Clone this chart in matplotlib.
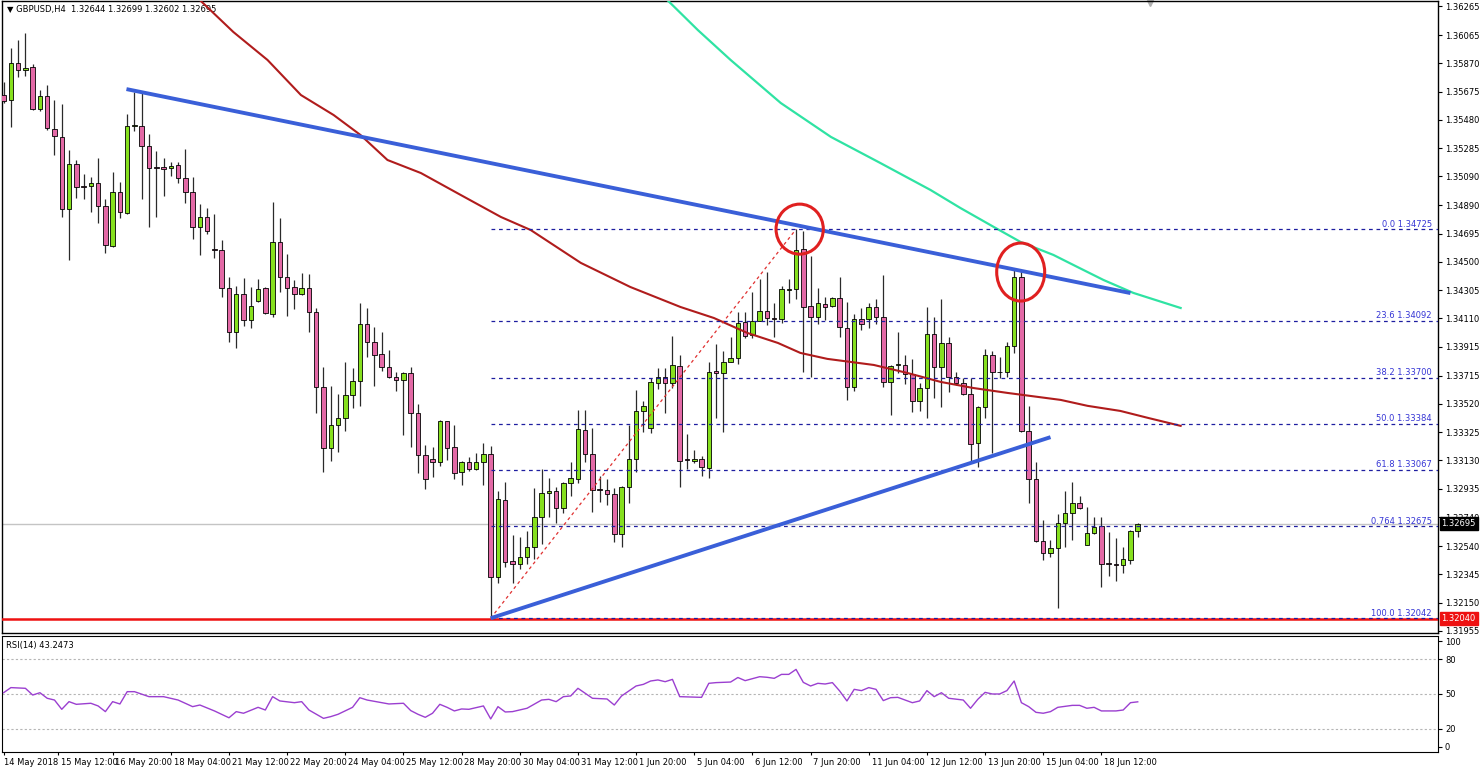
import numpy as np
import matplotlib.pyplot as plt
import matplotlib.transforms as mtransforms
from matplotlib.patches import Ellipse

# GBPUSD H4 candles (open, high, low, close)
open_ = [1.35651, 1.35616, 1.35874, 1.35823, 1.35842, 1.35552, 1.35644, 1.35414, 1.35363, 1.34862,
         1.35173, 1.35023, 1.35023, 1.35042, 1.34888, 1.34612, 1.34980, 1.34835, 1.35437, 1.35437,
         1.35301, 1.35152, 1.35152, 1.35147, 1.35166, 1.35076, 1.34984, 1.34743, 1.34812, 1.34586,
         1.34582, 1.34322, 1.34019, 1.34278, 1.34099, 1.34230, 1.34322, 1.34138, 1.34635, 1.34398,
         1.34325, 1.34279, 1.34318, 1.34157, 1.33640, 1.33219, 1.33373, 1.33426, 1.33580, 1.33681,
         1.34070, 1.33946, 1.33863, 1.33778, 1.33704, 1.33686, 1.33736, 1.33456, 1.33166, 1.33141,
         1.33123, 1.33403, 1.33226, 1.33049, 1.33118, 1.33070, 1.33123, 1.33173, 1.32323, 1.32858,
         1.32438, 1.32415, 1.32461, 1.32536, 1.32743, 1.32904, 1.32918, 1.32805, 1.32973, 1.33003,
         1.33341, 1.33173, 1.32932, 1.32927, 1.32897, 1.32621, 1.32946, 1.33141, 1.33474, 1.33357,
         1.33667, 1.33709, 1.33663, 1.33785, 1.33139, 1.33129, 1.33139, 1.33081, 1.33748, 1.33732,
         1.33812, 1.33835, 1.34083, 1.33996, 1.34093, 1.34162, 1.34111, 1.34106, 1.34306, 1.34311,
         1.34587, 1.34196, 1.34118, 1.34208, 1.34196, 1.34249, 1.34047, 1.33640, 1.34104, 1.34104,
         1.34187, 1.34122, 1.33670, 1.33789, 1.33789, 1.33727, 1.33543, 1.33628, 1.34001, 1.33778,
         1.33943, 1.33709, 1.33663, 1.33587, 1.33249, 1.33497, 1.33858, 1.33743, 1.33739, 1.33922,
         1.34398, 1.33334, 1.33001, 1.32578, 1.32490, 1.32525, 1.32702, 1.32766, 1.32840, 1.32548,
         1.32628, 1.32679, 1.32422, 1.32415, 1.32410, 1.32445, 1.32644]
high = [1.35743, 1.35973, 1.36030, 1.36076, 1.35862, 1.35685, 1.35717, 1.35616, 1.35586, 1.35272,
        1.35203, 1.35106, 1.35088, 1.35214, 1.34934, 1.35117, 1.35053, 1.35517, 1.35674, 1.35662,
        1.35380, 1.35267, 1.35214, 1.35191, 1.35191, 1.35278, 1.35083, 1.34897, 1.34869, 1.34828,
        1.34651, 1.34398, 1.34336, 1.34386, 1.34329, 1.34382, 1.34329, 1.34915, 1.34800, 1.34552,
        1.34375, 1.34421, 1.34417, 1.34180, 1.33778, 1.33647, 1.33589, 1.33808, 1.33766, 1.34214,
        1.34185, 1.34054, 1.34015, 1.33893, 1.33743, 1.33743, 1.33778, 1.33518, 1.33237, 1.33226,
        1.33410, 1.33405, 1.33373, 1.33127, 1.33157, 1.33185, 1.33254, 1.33233, 1.32920, 1.32985,
        1.32617, 1.32605, 1.32647, 1.32939, 1.33070, 1.33012, 1.32950, 1.32985, 1.33122, 1.33479,
        1.33479, 1.33352, 1.33024, 1.33001, 1.32943, 1.32955, 1.33375, 1.33617, 1.33543, 1.33697,
        1.33771, 1.33766, 1.33989, 1.33858, 1.33313, 1.33203, 1.33162, 1.33808, 1.33932, 1.33886,
        1.33980, 1.34157, 1.34157, 1.34295, 1.34385, 1.34433, 1.34214, 1.34334, 1.34382, 1.34725,
        1.34713, 1.34541, 1.34318, 1.34260, 1.34258, 1.34394, 1.34226, 1.34139, 1.34180, 1.34214,
        1.34244, 1.34410, 1.33789, 1.34019, 1.33858, 1.33828, 1.33663, 1.34187, 1.34122, 1.34244,
        1.33985, 1.33743, 1.33697, 1.33697, 1.33506, 1.33899, 1.33888, 1.33847, 1.33950, 1.34456,
        1.34437, 1.33506, 1.33122, 1.32720, 1.32582, 1.32762, 1.32923, 1.32980, 1.32888, 1.32808,
        1.32743, 1.32743, 1.32635, 1.32598, 1.32536, 1.32651, 1.32699]
low = [1.35593, 1.35428, 1.35777, 1.35782, 1.35547, 1.35543, 1.35409, 1.35237, 1.34807, 1.34513,
       1.34943, 1.34931, 1.34842, 1.34766, 1.34559, 1.34605, 1.34800, 1.34828, 1.35403, 1.34931,
       1.34743, 1.34807, 1.34957, 1.35092, 1.35046, 1.34904, 1.34660, 1.34547, 1.34690, 1.34529,
       1.34260, 1.33945, 1.33904, 1.34058, 1.34042, 1.34221, 1.34141, 1.34122, 1.34295, 1.34129,
       1.34175, 1.34275, 1.34019, 1.33460, 1.33049, 1.33127, 1.33192, 1.33336, 1.33495, 1.33507,
       1.33847, 1.33644, 1.33750, 1.33700, 1.33612, 1.33306, 1.33221, 1.33047, 1.32932, 1.33019,
       1.33095, 1.33134, 1.33001, 1.32962, 1.33058, 1.33065, 1.32962, 1.32042, 1.32284, 1.32398,
       1.32284, 1.32380, 1.32417, 1.32449, 1.32555, 1.32739, 1.32702, 1.32771, 1.32886, 1.32973,
       1.33122, 1.32778, 1.32847, 1.32824, 1.32571, 1.32536, 1.32835, 1.33054, 1.33329, 1.33318,
       1.33621, 1.33460, 1.33628, 1.32946, 1.33072, 1.33111, 1.33026, 1.33012, 1.33421, 1.33329,
       1.33808, 1.33794, 1.33973, 1.33973, 1.34090, 1.34065, 1.33984, 1.34081, 1.34214, 1.34242,
       1.33743, 1.33709, 1.34070, 1.34099, 1.34191, 1.33980, 1.33548, 1.33612, 1.34030, 1.34042,
       1.34072, 1.33635, 1.33444, 1.33732, 1.33658, 1.33463, 1.33474, 1.33421, 1.33559, 1.33497,
       1.33601, 1.33651, 1.33580, 1.33122, 1.33088, 1.33421, 1.33180, 1.33697, 1.33709, 1.33874,
       1.33329, 1.32840, 1.32566, 1.32444, 1.32463, 1.32111, 1.32532, 1.32582, 1.32797, 1.32545,
       1.32621, 1.32256, 1.32334, 1.32300, 1.32357, 1.32417, 1.32602]
close = [1.35609, 1.35869, 1.35823, 1.35839, 1.35552, 1.35644, 1.35421, 1.35368, 1.34862, 1.35173,
         1.35019, 1.35019, 1.35042, 1.34888, 1.34616, 1.34980, 1.34842, 1.35437, 1.35442, 1.35299,
         1.35145, 1.35147, 1.35138, 1.35163, 1.35076, 1.34984, 1.34743, 1.34812, 1.34713, 1.34582,
         1.34322, 1.34019, 1.34278, 1.34099, 1.34198, 1.34315, 1.34145, 1.34635, 1.34398, 1.34322,
         1.34279, 1.34318, 1.34157, 1.33635, 1.33219, 1.33373, 1.33426, 1.33580, 1.33681, 1.34070,
         1.33946, 1.33858, 1.33773, 1.33704, 1.33686, 1.33736, 1.33456, 1.33166, 1.33003, 1.33123,
         1.33403, 1.33219, 1.33047, 1.33123, 1.33072, 1.33123, 1.33173, 1.32323, 1.32863, 1.32433,
         1.32415, 1.32461, 1.32536, 1.32743, 1.32904, 1.32918, 1.32805, 1.32973, 1.33012, 1.33345,
         1.33173, 1.32927, 1.32927, 1.32897, 1.32621, 1.32950, 1.33141, 1.33474, 1.33506, 1.33674,
         1.33709, 1.33667, 1.33789, 1.33129, 1.33134, 1.33139, 1.33083, 1.33743, 1.33732, 1.33812,
         1.33835, 1.34076, 1.33991, 1.34093, 1.34164, 1.34111, 1.34106, 1.34311, 1.34313, 1.34582,
         1.34191, 1.34118, 1.34214, 1.34191, 1.34253, 1.34049, 1.33640, 1.34104, 1.34072, 1.34187,
         1.34122, 1.33670, 1.33785, 1.33794, 1.33727, 1.33543, 1.33628, 1.34001, 1.33778, 1.33943,
         1.33709, 1.33667, 1.33587, 1.33242, 1.33497, 1.33858, 1.33739, 1.33739, 1.33922, 1.34398,
         1.33334, 1.33001, 1.32575, 1.32490, 1.32525, 1.32702, 1.32766, 1.32840, 1.32801, 1.32628,
         1.32674, 1.32417, 1.32417, 1.32410, 1.32449, 1.32644, 1.32695]

# moving averages (bar index, price)
ma_red_bar = [27, 31.6, 36.3, 40.9, 45.4, 49.1, 52.8, 57.4, 62.9, 68.4, 72.5, 79.4, 86.2, 93.1,
              97.7, 102.3, 106.5, 109.6, 113.3, 116.5, 119.7, 124.3, 128.9, 133.4, 138.1,
              145.4, 149.1, 153.6, 157.4, 161.9]
ma_red_val = [1.36306, 1.36086, 1.35893, 1.35651, 1.35513, 1.35375, 1.35203, 1.35113, 1.34961,
              1.34810, 1.34720, 1.34493, 1.34327, 1.34189, 1.34113, 1.34010, 1.33941, 1.33872,
              1.33831, 1.33810, 1.33789, 1.33734, 1.33672, 1.33630, 1.33596, 1.33548, 1.33507,
              1.33472, 1.33424, 1.33369]
ma_green_bar = [91.3, 95.5, 100.0, 106.9, 113.8, 120.6, 127.5, 131.6, 136.2, 139.9, 144.4,
                147.7, 151.3, 155.4, 161.9]
ma_green_val = [1.36306, 1.36099, 1.35893, 1.35596, 1.35362, 1.35182, 1.34996, 1.34872, 1.34741,
                1.34637, 1.34548, 1.34465, 1.34375, 1.34286, 1.34182]

# trend lines
upper_tl_bar = [16.9, 155.0]
upper_tl_val = [1.35692, 1.34285]
lower_tl_bar = [67, 144.0]
lower_tl_val = [1.32042, 1.33291]
fib_bar = [67, 109]
fib_val = [1.32042, 1.34725]

fib_levels = [1.34725, 1.34092, 1.33700, 1.33384, 1.33067, 1.32675, 1.32042]
fib_names = ['0.0', '23.6', '38.2', '50.0', '61.8', '0.764', '100.0']

support = 1.32040
bid = 1.32695

circle_bar = [109.5, 139.9]
circle_val = [1.34726, 1.34430]

price_ticks = [1.36265, 1.36065, 1.35870, 1.35675, 1.35480, 1.35285, 1.35090, 1.34890,
               1.34695, 1.34500, 1.34305, 1.34110, 1.33915, 1.33715, 1.33520, 1.33325,
               1.33130, 1.32935, 1.32740, 1.32540, 1.32345, 1.32150, 1.31955]

rsi_bar = [0, 1, 3, 4, 5, 6, 7, 8, 9, 10, 12, 13, 14, 15, 16, 17, 18, 20, 22, 24, 26, 27, 29,
           31, 32, 33, 35, 36, 37, 38, 40, 41, 42, 44, 45, 46, 48, 49, 50, 52, 53, 55, 56, 57,
           58, 59, 60, 61, 62, 63, 64, 66, 67, 68, 69, 70, 72, 74, 75, 76, 77, 78, 79, 80, 81,
           83, 84, 85, 87, 88, 89, 90, 91, 92, 93, 96, 97, 98, 100, 101, 102, 104, 105, 106,
           107, 108, 109, 110, 111, 112, 113, 114, 115, 116, 117, 118, 119, 120, 121, 122, 123,
           125, 126, 127, 128, 129, 130, 132, 133, 134, 135, 136, 137, 138, 139, 140, 141, 142,
           143, 144, 145, 147, 148, 149, 150, 151, 153, 154, 155, 156]
rsi_val = [51.1, 55.5, 54.9, 49.1, 51.1, 46.3, 44.8, 36.8, 43.4, 41.1, 42.0, 39.7, 34.8, 43.4,
           41.4, 52.0, 52.0, 47.7, 47.7, 44.8, 39.1, 40.5, 35.4, 29.5, 34.8, 33.4, 38.5, 36.2,
           47.7, 44.0, 42.5, 43.4, 36.2, 29.0, 30.5, 32.5, 38.5, 46.8, 44.8, 42.5, 41.4, 42.0,
           35.7, 32.5, 29.9, 33.4, 41.1, 38.5, 35.4, 37.1, 36.8, 39.7, 28.5, 39.1, 34.5, 34.8,
           37.7, 44.8, 45.4, 43.4, 47.7, 48.3, 54.9, 50.6, 46.3, 45.7, 40.5, 48.3, 56.9, 58.3,
           61.2, 62.1, 60.6, 62.6, 47.7, 47.1, 59.2, 59.8, 60.3, 64.2, 61.5, 64.9, 64.4, 63.5,
           66.9, 66.9, 71.2, 60.0, 56.9, 59.2, 58.6, 59.8, 52.6, 44.0, 54.0, 52.9, 55.5, 54.0,
           44.3, 46.8, 47.1, 42.5, 44.0, 52.9, 47.7, 51.1, 46.3, 44.8, 37.7, 45.4, 51.4, 50.0,
           50.0, 52.9, 61.2, 42.5, 39.1, 34.2, 33.4, 34.8, 38.5, 40.2, 40.2, 37.7, 38.5, 35.4,
           35.4, 36.2, 42.5, 43.2473]
rsi_levels = [20, 50, 80]

time_bar = [0, 7.5, 15, 23, 31, 39, 47, 55, 63, 71, 79, 87, 95, 103, 111, 119, 127, 135, 143, 151]
time_labels = ['14 May 2018', '15 May 12:00', '16 May 20:00', '18 May 04:00', '21 May 12:00',
               '22 May 20:00', '24 May 04:00', '25 May 12:00', '28 May 20:00', '30 May 04:00',
               '31 May 12:00', '1 Jun 20:00', '5 Jun 04:00', '6 Jun 12:00', '7 Jun 20:00',
               '11 Jun 04:00', '12 Jun 12:00', '13 Jun 20:00', '15 Jun 04:00', '18 Jun 12:00']

plt.rcParams['font.family'] = ['DejaVu Sans']
fs = 6

fig = plt.figure(figsize=(14.8, 7.72), dpi=100)
ax = fig.add_axes([0.00135, 0.18005, 0.97027, 0.8187])
rsi_ax = fig.add_axes([0.00135, 0.0259, 0.97027, 0.1503], sharex=ax)

o = np.array(open_)
c = np.array(close)
x = np.arange(len(o))
up = c >= o

# candles
ax.vlines(x, low, high, color='#2a2a2a', lw=0.9, zorder=2)
body_low = np.minimum(o, c)
body_h = np.maximum(np.abs(c - o), 0.00002)
ax.bar(x, body_h, bottom=body_low, width=0.62,
       color=np.where(up, '#86e01e', '#e369a6'), edgecolor='black', linewidth=0.6, zorder=3)

# horizontal lines
ax.axhline(bid, color='#c4c4c4', lw=1, zorder=1)
ax.axhline(support, color='#ee1111', lw=1.8, zorder=4)

# moving averages
ax.plot(ma_red_bar, ma_red_val, color='#b01c1c', lw=1.5, zorder=4)
ax.plot(ma_green_bar, ma_green_val, color='#2fe3a3', lw=1.6, zorder=4)

# trend lines
ax.plot(upper_tl_bar, upper_tl_val, color='#3a5fd8', lw=2.8, solid_capstyle='butt', zorder=5)
ax.plot(lower_tl_bar, lower_tl_val, color='#3a5fd8', lw=2.8, solid_capstyle='butt', zorder=5)
ax.plot(fib_bar, fib_val, color='#e03030', lw=0.9, ls=(0, (2.5, 2.5)), zorder=4)

# fibonacci levels
xlim_right = 197.3
blend = mtransforms.blended_transform_factory(ax.transAxes, ax.transData)
for lvl, name in zip(fib_levels, fib_names):
    ax.plot([fib_bar[0], xlim_right], [lvl, lvl], color='#1e1ea0', lw=0.9,
            ls=(0, (3, 3)), zorder=4)
    ax.text(0.9958, lvl + 0.00004, f'{name} {lvl:.5f}', transform=blend, ha='right',
            va='bottom', fontsize=fs, color='#3535d5', zorder=6)

# red circles
for cb, cv, w, h in zip(circle_bar, circle_val, [6.5, 6.6], [0.00345, 0.0040]):
    ax.add_patch(Ellipse((cb, cv), w, h, fill=False, edgecolor='#e02020', lw=2.2, zorder=6))

ax.set_xlim(-0.22, xlim_right)
ax.set_ylim(1.3194, 1.3630)
ax.yaxis.tick_right()
ax.set_yticks(price_ticks)
ax.set_yticklabels([f'{p:.5f}' for p in price_ticks])
ax.tick_params(axis='y', direction='out', length=3, labelsize=fs, pad=2, width=0.8)
ax.tick_params(axis='x', bottom=False, labelbottom=False)

# price boxes on the right axis
ax.text(1.0025, bid, f'{bid:.5f}', transform=blend, ha='left', va='center', fontsize=fs,
        color='white', zorder=10,
        bbox=dict(facecolor='black', edgecolor='black', pad=1.3))
ax.text(1.0025, support, f'{support:.5f}', transform=blend, ha='left', va='center', fontsize=fs,
        color='white', zorder=10,
        bbox=dict(facecolor='#ee1111', edgecolor='#ee1111', pad=1.3))

# chart shift marker and header
top_blend = mtransforms.blended_transform_factory(ax.transData, ax.transAxes)
ax.plot([157.7], [0.996], marker='v', color='#b0b0b0', ms=5, transform=top_blend, clip_on=False)
ax.text(0.0035, 0.993, '\u25bc GBPUSD,H4  1.32644 1.32699 1.32602 1.32695',
        transform=ax.transAxes, ha='left', va='top', fontsize=fs)

for sp in ax.spines.values():
    sp.set_linewidth(1.0)

# RSI panel
rsi_ax.plot(rsi_bar, rsi_val, color='#9b3fd0', lw=1.0, zorder=3)
for lvl in rsi_levels:
    rsi_ax.axhline(lvl, color='#b5b5b5', lw=0.8, ls=(0, (2, 2)), zorder=1)
rsi_ax.set_ylim(0, 100)
rsi_ax.yaxis.tick_right()
rsi_ax.set_yticks([4.5, 20, 50, 80, 95.5])
rsi_ax.set_yticklabels(['0', '20', '50', '80', '100'])
rsi_ax.tick_params(axis='y', direction='out', length=3, labelsize=fs, pad=2, width=0.8)
rsi_ax.text(0.0025, 0.96, 'RSI(14) 43.2473', transform=rsi_ax.transAxes, ha='left',
            va='top', fontsize=fs)

rsi_ax.set_xticks(time_bar)
rsi_ax.set_xticklabels(time_labels)
rsi_ax.tick_params(axis='x', direction='out', length=2, labelsize=fs, pad=2, width=0.8)
shift = mtransforms.ScaledTranslation(2 / 72, 0, fig.dpi_scale_trans)
for i, lab in enumerate(rsi_ax.get_xticklabels()):
    lab.set_horizontalalignment('left')
    if i > 0:
        lab.set_transform(lab.get_transform() + shift)

fig.savefig('out.png', dpi=100, facecolor='white')
